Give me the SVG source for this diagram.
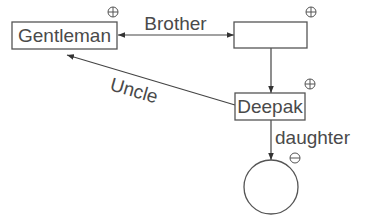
<svg xmlns="http://www.w3.org/2000/svg" width="368" height="220" viewBox="0 0 368 220">
<defs>
<style>
.box{fill:#fff;stroke:#555;stroke-width:1.3}
.ln{stroke:#444;stroke-width:1.2;fill:none}
.t{font-family:"Liberation Sans",Arial,sans-serif;font-size:19px;fill:#4a4a4a}
.sym{fill:none;stroke:#555;stroke-width:1}
</style>
<marker id="ah" viewBox="0 0 10 10" refX="10" refY="5" markerWidth="7" markerHeight="7" orient="auto-start-reverse" markerUnits="userSpaceOnUse">
<path d="M0,1 L10,5 L0,9 z" fill="#333"/>
</marker>
<g id="plus"><circle r="5" class="sym"/><path d="M-5,0H5M0,-5V5" class="sym"/></g>
<g id="minus"><circle r="5" class="sym"/><path d="M-5,0H5" class="sym"/></g>
</defs>
<rect width="368" height="220" fill="#fff"/>
<g id="connectors">
<line x1="118" y1="35" x2="234" y2="35" class="ln" marker-start="url(#ah)" marker-end="url(#ah)"/>
<line x1="271" y1="48" x2="271" y2="93" class="ln" marker-end="url(#ah)"/>
<line x1="235" y1="105" x2="67" y2="55" class="ln" marker-end="url(#ah)"/>
<line x1="271" y1="120" x2="271" y2="160" class="ln" marker-end="url(#ah)"/>
<text class="t" x="175.5" y="30" text-anchor="middle">Brother</text>
<text class="t" x="134" y="97" text-anchor="middle" transform="rotate(16 134 91)">Uncle</text>
<text class="t" x="275" y="144">daughter</text>
</g>
<g id="gentleman">
<rect class="box" x="12" y="22" width="105" height="27"/>
<text class="t" x="64.5" y="42" text-anchor="middle">Gentleman</text>
<use href="#plus" x="113" y="12"/>
</g>
<g id="blank">
<rect class="box" x="234" y="22" width="73" height="26"/>
<use href="#plus" x="311" y="12"/>
</g>
<g id="deepak">
<rect class="box" x="235" y="93" width="70" height="27"/>
<text class="t" x="270" y="113" text-anchor="middle">Deepak</text>
<use href="#plus" x="310" y="84"/>
</g>
<g id="daughter">
<circle cx="271" cy="187" r="27" class="box"/>
<use href="#minus" x="295" y="158"/>
</g>
</svg>
